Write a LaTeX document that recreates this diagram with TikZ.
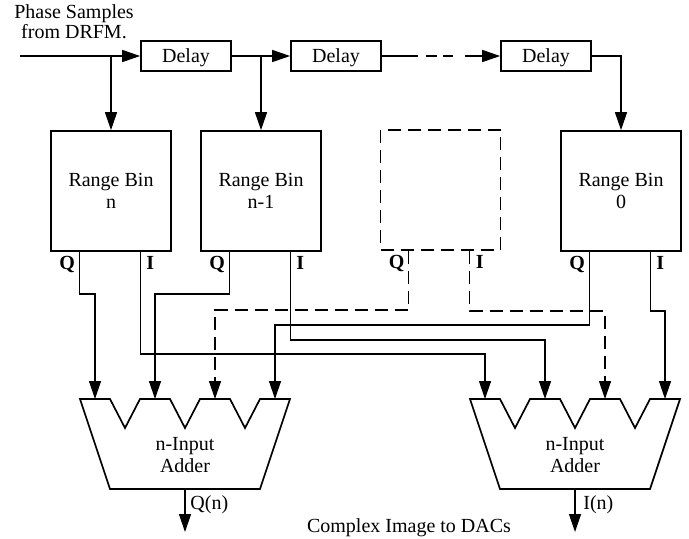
\documentclass[tikz,border=0pt]{standalone}
\usepackage{fontspec}
\setmainfont{Liberation Serif}
\usetikzlibrary{arrows.meta,calc}
\begin{document}
\begin{tikzpicture}[x=0.5pt,y=-0.5pt,
  every node/.append style={font=\fontsize{10}{10.8}\selectfont},
  box/.style={draw,line width=0.85pt,inner sep=0pt},
  delaybox/.style={box,minimum width=45pt,minimum height=15pt,text depth=0pt},
  binbox/.style={box,minimum width=60pt,minimum height=60pt,align=center},
  conn/.style={line width=0.65pt},
  feed/.style={conn,-{Triangle[length=9pt,width=6pt]}},
  dashedlink/.style={dash pattern=on 6.5pt off 3.5pt},
  port/.style={font=\fontsize{10}{10.8}\selectfont\bfseries,inner sep=0pt,anchor=base},
  adder/.pic={
    \draw[line width=0.85pt] (0,0) -- (30,0) -- (45,29) -- (60,0) -- (90,0)
      -- (105,29) -- (120,0) -- (150,0) -- (165,29) -- (180,0) -- (210,0)
      -- (180,90) -- (30,90) -- cycle;
    \node[align=center,inner sep=0pt] (-label) at (105,56) {n-Input\\Adder};
    \coordinate (-in1) at (15,0);
    \coordinate (-in2) at (75,0);
    \coordinate (-in3) at (135,0);
    \coordinate (-in4) at (195,0);
    \coordinate (-out) at (105,90);
  }
]
\useasboundingbox (0,0) rectangle (689,538);

% delay line
\node[align=center,inner sep=0pt,font=\fontsize{10}{8}\selectfont] (src-label) at (74,22) {Phase Samples\\from DRFM.};
\coordinate (src) at (20,56);
\node[delaybox] (d1) at (186,56) {Delay};
\node[delaybox] (d2) at (336,56) {Delay};
\node[delaybox] (d3) at (546,56) {Delay};

% range bins
\node[binbox] (rbn) at (111,191) {Range Bin\\n};
\node[binbox] (rbm) at (261,191) {Range Bin\\n-1};
\node[binbox,dashedlink] (rbx) at (440.5,190) {};
\node[binbox] (rb0) at (621,191) {Range Bin\\0};

% Q and I output ports of each bin
\foreach \b in {rbn,rbm,rbx,rb0} {
  \coordinate (\b-q) at ($(\b.south west)+(29,0)$);
  \coordinate (\b-i) at ($(\b.south west)+(90,0)$);
  \node[port] (\b-qlabel) at ($(\b-q)+(-12,18)$) {Q};
  \node[port] (\b-ilabel) at ($(\b-i)+(10,18)$) {I};
}

% adders
\pic (a1) at (80,399) {adder};
\pic (a2) at (470,399) {adder};

% taps along the delay line
\draw[feed] (src) -- (d1.west);
\draw[feed] (rbn.north |- d1.west) -- (rbn.north);
\draw[feed] (d1.east) -- (d2.west);
\draw[feed] (rbm.north |- d2.west) -- (rbm.north);
\draw[feed,dash pattern=on 18pt off 4pt on 5.5pt off 3pt on 5pt off 6pt on 100pt] (d2.east) -- (d3.west);
\draw[feed] (d3.east) -| (rb0.north);

% bin outputs to the adders
\draw[feed] (rbn-q) -- ++(0,42) -| (a1-in1);
\draw[feed] (rbn-i) -- ++(0,102) -| (a2-in1);
\draw[feed] (rbm-q) -- ++(0,42) -| (a1-in2);
\draw[feed] (rbm-i) -- ++(0,88) -| (a2-in2);
\draw[feed,dashedlink] (rbx-q) -- ++(0,59) -| (a1-in3);
\draw[feed,dashedlink] (rbx-i) -- ++(0,60) -| (a2-in3);
\draw[feed] (rb0-q) -- ++(0,73) -| (a1-in4);
\draw[feed] (rb0-i) -- ++(0,59) -| (a2-in4);

% adder outputs
\coordinate (qn-end) at ($(a1-out)+(0,43)$);
\coordinate (in-end) at ($(a2-out)+(0,43)$);
\draw[feed] (a1-out) -- (qn-end);
\draw[feed] (a2-out) -- (in-end);
\node[anchor=base west,inner sep=0pt] (qn-label) at ($(a1-out)+(5,20)$) {Q(n)};
\node[anchor=base west,inner sep=0pt] (in-label) at ($(a2-out)+(8,20)$) {I(n)};
\node[anchor=base,inner sep=0pt] (dacs) at (409,532) {Complex Image to DACs};
\end{tikzpicture}
\end{document}
